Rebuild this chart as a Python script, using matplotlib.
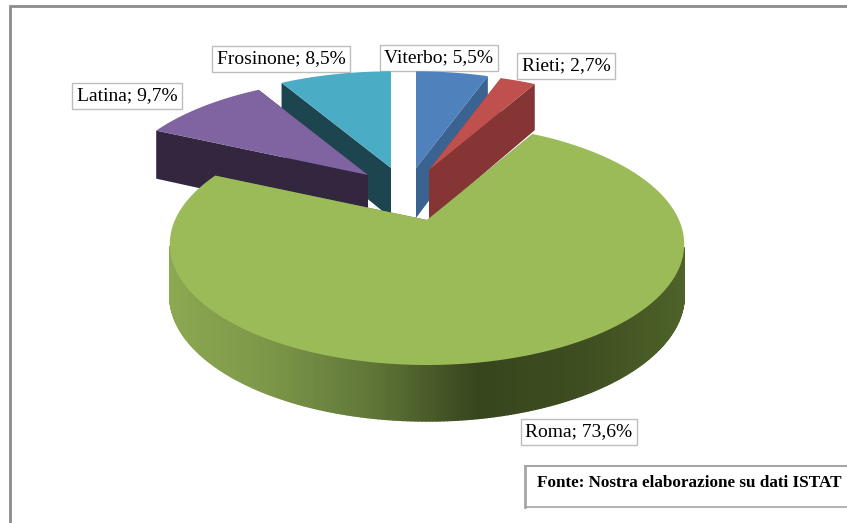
import numpy as np
import matplotlib
matplotlib.use("Agg")
import matplotlib.pyplot as plt
from matplotlib.collections import PolyCollection
from matplotlib.colors import LinearSegmentedColormap
from matplotlib.patches import Polygon

# clockwise from 12 o'clock
province = ["Viterbo", "Rieti", "Roma", "Latina", "Frosinone"]
share = [5.5, 2.7, 73.6, 9.7, 8.5]

top_col = ["#4F81BD", "#C0504D", "#9BBB59", "#8064A2", "#4BACC6"]
side_col = ["#3A6391", "#853634", "#5C7036", "#33263F", "#1D4550"]

# explosion of each slice on screen, pixels from pie centre
explode_x = [8, 21, 19, -40, -17]
explode_y = [-31, -29, 21, -24, -31]
draw_order = [0, 1, 4, 3, 2]

label_xy = [(439, 58), (566, 66), (579, 432), (127, 96), (281, 59)]

cx, cy = 408, 199
A, C, K = 252.0, 116.0, 0.2   # disc half width, height, perspective
DEPTH = 50.0


def project(theta):
    X = np.sin(theta)
    Y = np.cos(theta)
    w = 1 + K * Y
    return A * X / w, -C * Y / w, DEPTH / np.sqrt(w)


fig = plt.figure(figsize=(8.47, 5.23), dpi=100)
ax = fig.add_axes([0, 0, 1, 1])
ax.set_xlim(0, 847)
ax.set_ylim(523, 0)
ax.axis("off")

# outer frame, only top and left show
ax.plot([847, 10, 10], [6, 6, 523], color="#8C8C8C", lw=2, zorder=1, solid_joinstyle="miter")

for name, v, xy in zip(province, share, label_xy):
    txt = f"{name}; {v:.1f}%".replace(".", ",")
    ax.text(xy[0], xy[1], txt, family="Liberation Serif", fontsize=14, color="black",
            ha="center", va="center", zorder=2,
            bbox=dict(boxstyle="square,pad=0.25", fc="white", ec="#BDBDBD", lw=1))

edges = np.radians(np.concatenate([[0], np.cumsum(share)]) * 3.6)
side_cm = LinearSegmentedColormap.from_list("roma", ["#8CA851", "#7C9648", "#5F7538", "#37451D", "#3E4E20", "#4E6229"])

z = 3
for i in draw_order:
    t = np.linspace(edges[i], edges[i + 1], 400)
    x, y, d = project(t)
    x = x + cx + explode_x[i]
    y = y + cy + explode_y[i]
    ox, oy = cx + explode_x[i], cy + explode_y[i]
    od = DEPTH

    # cut faces
    for k in [0, -1]:
        ax.add_patch(Polygon([(ox, oy), (x[k], y[k]), (x[k], y[k] + d[k]), (ox, oy + od)],
                             fc=side_col[i], ec="none", zorder=z))
    # rim, only the part facing the viewer
    front = [j for j in range(len(t) - 1) if np.cos(t[j]) < -K - 0.02]
    if front:
        quads = [[(x[j], y[j]), (x[j + 1], y[j + 1]), (x[j + 1], y[j + 1] + d[j + 1]), (x[j], y[j] + d[j])]
                 for j in front]
        cols = side_cm((x[front] - x.min()) / (x.max() - x.min()))
        ax.add_collection(PolyCollection(quads, facecolors=cols, edgecolors=cols, linewidths=1.2, zorder=z))
    # top
    ax.add_patch(Polygon(np.column_stack([np.r_[ox, x], np.r_[oy, y]]), fc=top_col[i], ec="none", zorder=z + 0.5))
    z += 1

ax.plot([525, 847], [466, 466], color="#A6A6A6", lw=1.5, zorder=2)
ax.plot([525, 525], [466, 507], color="#A6A6A6", lw=2, zorder=2)
ax.plot([525, 847], [507, 507], color="#A6A6A6", lw=1.2, zorder=2)
ax.text(537, 483, "Fonte: Nostra elaborazione su dati ISTAT", family="Liberation Serif", fontsize=12.35,
        fontweight="bold", color="black", ha="left", va="center", zorder=2)

fig.savefig("out.png", dpi=100)
